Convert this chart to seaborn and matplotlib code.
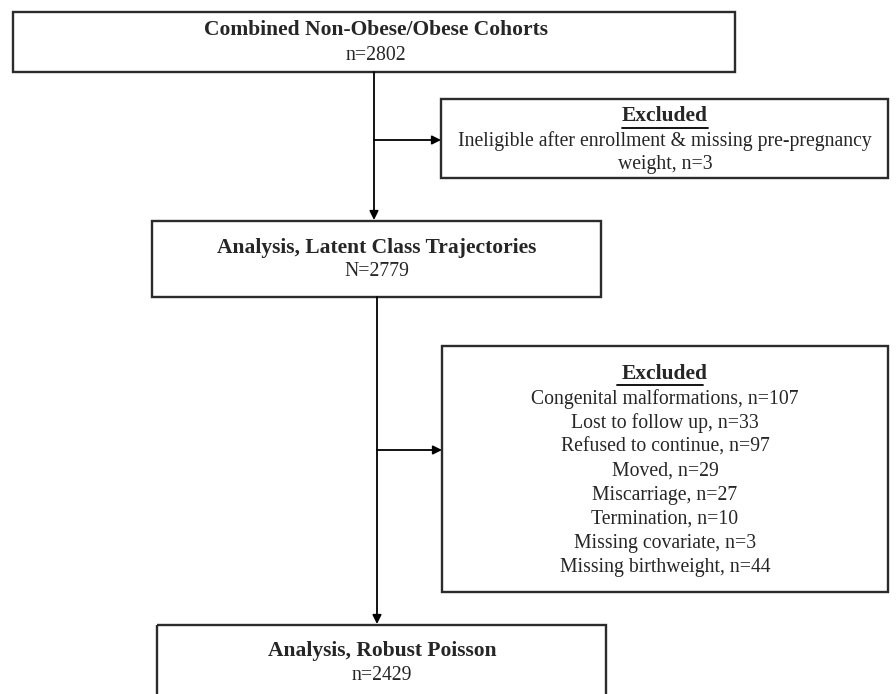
import matplotlib
matplotlib.use("Agg")
import matplotlib.pyplot as plt
import seaborn as sns
from matplotlib.patches import Rectangle

sns.set_theme(style="white")
plt.rcParams['font.family'] = ['Liberation Serif', 'DejaVu Serif']

# flow counts
total_n = 2802
excl1_n = 3
latent_n = 2779
excl2_labels = ['Congenital malformations', 'Lost to follow up', 'Refused to continue',
                'Moved', 'Miscarriage', 'Termination', 'Missing covariate',
                'Missing birthweight']
excl2_n = [107, 33, 97, 29, 27, 10, 3, 44]
poisson_n = 2429

fig = plt.figure(figsize=(8.96, 6.94), dpi=100)
ax = fig.add_axes([0, 0, 1, 1])
ax.set_xlim(0, 896)
ax.set_ylim(694, 0)
ax.axis('off')

edge = '#2b2b2b'
fs = 14.2   # regular text
fb = 15.5   # bold headings

def box(x0, y0, x1, y1):
    ax.add_patch(Rectangle((x0, y0), x1 - x0, y1 - y0, fill=False,
                           edgecolor=edge, linewidth=1.7))

def arrow(x0, y0, x1, y1):
    ax.annotate('', xy=(x1, y1), xytext=(x0, y0),
                arrowprops=dict(arrowstyle='-|>', color='black', lw=1.3,
                                mutation_scale=13, shrinkA=0, shrinkB=0))

# top box
box(13, 12, 735, 72)
ax.text(376, 30, 'Combined Non-Obese/Obese Cohorts', ha='center', va='center',
        fontsize=fb, fontweight='bold')
ax.text(376, 55, f'n={total_n}', ha='center', va='center', fontsize=fs)

# first exclusion
arrow(374, 72, 374, 220)
arrow(374, 140, 441, 140)
box(441, 99, 888, 178)
ax.text(665, 116, 'Excluded', ha='center', va='center', fontsize=fb,
        fontweight='bold')
ax.plot([622, 708], [127.5, 127.5], color='black', lw=1.3)
ax.text(665, 141, 'Ineligible after enrollment & missing pre-pregnancy',
        ha='center', va='center', fontsize=fs)
ax.text(665, 164, f'weight, n={excl1_n}', ha='center', va='center', fontsize=fs)

# latent class box
box(152, 221, 601, 297)
ax.text(377, 248, 'Analysis, Latent Class Trajectories', ha='center',
        va='center', fontsize=fb, fontweight='bold')
ax.text(377, 271, f'N={latent_n}', ha='center', va='center', fontsize=fs)

# second exclusion
arrow(377, 297, 377, 624)
arrow(377, 450, 442, 450)
box(442, 346, 888, 592)
ax.text(665, 374, 'Excluded', ha='center', va='center', fontsize=fb,
        fontweight='bold')
ax.plot([617, 703], [385, 385], color='black', lw=1.3)
for i, (lab, n) in enumerate(zip(excl2_labels, excl2_n)):
    ax.text(665, 399 + i * 24.1, f'{lab}, n={n}', ha='center', va='center',
            fontsize=fs)

# final box
box(157, 625, 606, 720)
ax.text(382, 651, 'Analysis, Robust Poisson', ha='center', va='center',
        fontsize=fb, fontweight='bold')
ax.text(382, 675, f'n={poisson_n}', ha='center', va='center', fontsize=fs)

fig.savefig('out.png', dpi=100, facecolor='white')
